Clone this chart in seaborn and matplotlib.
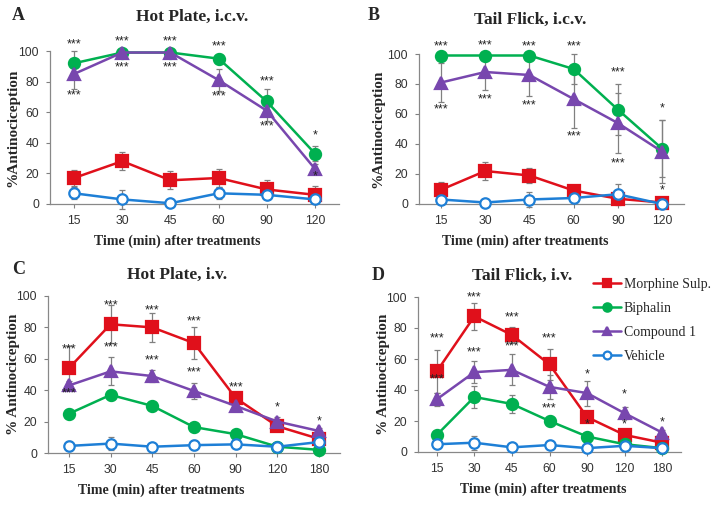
import numpy as np
import pandas as pd
import matplotlib
matplotlib.use("Agg")
import matplotlib.pyplot as plt
import seaborn as sns

# panel A : hot plate, i.c.v.
times_icv = ["15", "30", "45", "60", "90", "120"]
a_morphine = [17, 28, 15.5, 17, 9.5, 6]
a_morphine_err = [5, 6, 6, 6, 6, 6]
a_biphalin = [92, 99, 99, 95, 67, 33]
a_biphalin_err = [8, 1, 1, 3, 8, 5]
a_compound = [85, 99, 99, 81, 61, 23]
a_compound_err = [10, 1, 1, 7, 7, 3]
a_vehicle = [7, 3, 0.5, 7, 6, 3]
a_vehicle_err = [4, 6, 2, 4, 2, 2]
a_stars = [(0, 104, "***"), (0, 71, "***"), (1, 106, "***"), (1, 89, "***"),
           (2, 106, "***"), (2, 89, "***"), (3, 103, "***"), (3, 70, "***"),
           (4, 80, "***"), (4, 51, "***"), (5, 45, "*"), (5, 18, "*")]

# panel B : tail flick, i.c.v.
b_morphine = [9.5, 22, 19, 9, 3.5, 1]
b_morphine_err = [5, 6, 5, 2, 2, 1]
b_biphalin = [99, 99, 99, 90, 63, 37]
b_biphalin_err = [1, 1, 1, 10, 17, 19]
b_compound = [81, 88, 86, 70, 54, 35]
b_compound_err = [13, 12, 14, 19, 20, 21]
b_vehicle = [3, 1, 3, 4, 6.5, 0]
b_vehicle_err = [2, 1, 5, 2, 7, 0.5]
b_stars = [(0, 105, "***"), (0, 63, "***"), (1, 106, "***"), (1, 70, "***"),
           (2, 105, "***"), (2, 66, "***"), (3, 105, "***"), (3, 45, "***"),
           (4, 88, "***"), (4, 27, "***"), (5, 64, "*"), (5, 9, "*")]

# panel C : hot plate, i.v.
times_iv = ["15", "30", "45", "60", "90", "120", "180"]
c_morphine = [54, 82, 80, 70, 35, 17, 9]
c_morphine_err = [14, 12, 9, 10, 4, 3, 3]
c_biphalin = [25, 37, 30, 16.5, 12, 4, 2]
c_biphalin_err = [3, 3, 2, 1, 2, 1, 1]
c_compound = [43, 52, 49, 39.5, 30, 20, 14]
c_compound_err = [3, 9, 4, 5, 3, 3, 2]
c_vehicle = [4.5, 6, 4, 5, 5.5, 4, 7]
c_vehicle_err = [3, 4, 2, 3, 2, 1, 2]
c_stars = [(0, 66, "***"), (0, 38, "***"), (1, 94, "***"), (1, 67, "***"),
           (2, 91, "***"), (2, 59, "***"), (3, 84, "***"), (3, 51, "***"),
           (4, 42, "***"), (5, 29, "*"), (6, 20, "*")]

# panel D : tail flick, i.v.
d_morphine = [52, 87.5, 75.5, 56.5, 22.5, 11, 6]
d_morphine_err = [14, 8.5, 5, 10, 3, 2, 1]
d_biphalin = [11, 35.5, 31, 20, 10, 5, 2.5]
d_biphalin_err = [1, 7, 6, 3, 1, 1, 1]
d_compound = [34, 51.5, 53, 42, 38, 25, 12.5]
d_compound_err = [4, 7, 10, 8, 8, 4, 2]
d_vehicle = [5, 6, 3, 4.5, 2.5, 4, 2.5]
d_vehicle_err = [1, 4.5, 1, 1, 1, 1, 1]
d_stars = [(0, 73, "***"), (0, 47, "***"), (1, 100, "***"), (1, 64, "***"),
           (2, 87, "***"), (2, 68, "***"), (3, 73, "***"), (3, 28, "***"),
           (4, 50, "*"), (4, 18, "*"), (5, 37, "*"), (5, 18, "*"), (6, 19, "*")]

series_names = ["Morphine Sulp.", "Biphalin", "Compound 1", "Vehicle"]

# look of each series (color, marker, size, open face)
styles = {
    "Morphine Sulp.": dict(color="#E0101B", marker="s", ms=8, mfc="#E0101B"),
    "Biphalin": dict(color="#00B050", marker="o", ms=8, mfc="#00B050"),
    "Compound 1": dict(color="#7847AE", marker="^", ms=8.5, mfc="#7847AE"),
    "Vehicle": dict(color="#1E7FD6", marker="o", ms=7.5, mfc="white"),
}

sns.set_style("ticks")
serif = ["Liberation Serif", "DejaVu Serif"]
sans = ["Liberation Sans", "DejaVu Sans"]

W, H = 714, 505
fig = plt.figure(figsize=(W / 100, H / 100), dpi=100)


def px_rect(x0, x1, ytop, ybot):
    return [x0 / W, 1 - ybot / H, (x1 - x0) / W, (ybot - ytop) / H]


# letter, title, times, data, stars, axes box (px), ylabel,
# title pad, title centre x, xlabel centre x, ylabel right edge x, letter pos (all px)
panels = [
    ("A", "Hot Plate, i.c.v.", times_icv,
     [(a_morphine, a_morphine_err), (a_biphalin, a_biphalin_err),
      (a_compound, a_compound_err), (a_vehicle, a_vehicle_err)], a_stars,
     px_rect(50, 339, 51, 204), "%Antinociception", 22, 192, 177, 19, (12, 15)),
    ("B", "Tail Flick, i.c.v.", times_icv,
     [(b_morphine, b_morphine_err), (b_biphalin, b_biphalin_err),
      (b_compound, b_compound_err), (b_vehicle, b_vehicle_err)], b_stars,
     px_rect(419, 684, 54, 204), "%Antinociception", 22, 530, 525, 384, (368, 15)),
    ("C", "Hot Plate, i.v.", times_iv,
     [(c_morphine, c_morphine_err), (c_biphalin, c_biphalin_err),
      (c_compound, c_compound_err), (c_vehicle, c_vehicle_err)], c_stars,
     px_rect(48, 340, 296, 453), "% Antinociception", 12, 177, 161, 20, (12, 270)),
    ("D", "Tail Flick, i.v.", times_iv,
     [(d_morphine, d_morphine_err), (d_biphalin, d_biphalin_err),
      (d_compound, d_compound_err), (d_vehicle, d_vehicle_err)], d_stars,
     px_rect(418, 681, 297, 452), "% Antinociception", 12, 522, 543, 390, (372, 275)),
]

for letter, title, times, data, stars, rect, ylab, tpad, tx, lx, ylx, lpos in panels:
    ax = fig.add_axes(rect)
    xs = np.arange(len(times))
    x0 = rect[0] * W
    aw = rect[2] * W
    # error bars first, behind the markers
    for name, (vals, errs) in zip(series_names, data):
        ax.errorbar(xs, vals, yerr=errs, fmt="none", ecolor="#808080",
                    elinewidth=0.9, capsize=2.5, capthick=0.9, zorder=2, clip_on=False)
    for name, (vals, errs) in zip(series_names, data):
        st = styles[name]
        df = pd.DataFrame({"x": xs, "y": vals})
        sns.lineplot(data=df, x="x", y="y", ax=ax, color=st["color"], lw=1.8,
                     marker=st["marker"], markersize=st["ms"],
                     markerfacecolor=st["mfc"], markeredgecolor=st["color"],
                     markeredgewidth=1.6, label=name, legend=False,
                     zorder=3, clip_on=False)
    for xi, yv, s in stars:
        ax.text(xi, yv, s, ha="center", va="center", fontsize=9,
                family=sans, color="#222222")
    ax.set_xlim(-0.5, len(times) - 0.5)
    ax.set_ylim(0, 100)
    ax.set_yticks([0, 20, 40, 60, 80, 100])
    ax.set_xticks(xs)
    ax.set_xticklabels(times)
    ax.tick_params(axis="both", labelsize=8.8, colors="#808080", length=3,
                   width=0.8, labelcolor="#333333", pad=5)
    for lab in ax.get_xticklabels() + ax.get_yticklabels():
        lab.set_family(sans)
    for sp in ["left", "bottom"]:
        ax.spines[sp].set_color("#888888")
        ax.spines[sp].set_linewidth(0.9)
    sns.despine(ax=ax)
    ax.set_xlabel("Time (min) after treatments", fontsize=10, fontweight="bold",
                  family=serif, labelpad=5)
    ax.xaxis.label.set_x((lx - x0) / aw)
    ax.set_ylabel(ylab, fontsize=11, fontweight="bold", family=serif)
    ax.yaxis.set_label_coords((ylx - x0) / aw, 0.5)
    ax.set_title(title, fontsize=12.5, fontweight="bold", family=serif, pad=tpad,
                 x=(tx - x0) / aw)
    fig.text(lpos[0] / W, 1 - lpos[1] / H, letter, fontsize=13,
             fontweight="bold", family=serif, ha="left", va="center")
    if letter == "D":
        handles, labels = ax.get_legend_handles_labels()
        fig.legend(handles, labels, loc="upper left", bbox_to_anchor=(593 / W, 1 - 278 / H),
                   frameon=False, prop={"family": serif, "size": 10},
                   handlelength=2.0, handletextpad=0.2, labelspacing=0.78,
                   markerscale=0.75, borderaxespad=0, borderpad=0)

fig.savefig("out.png", dpi=100)
